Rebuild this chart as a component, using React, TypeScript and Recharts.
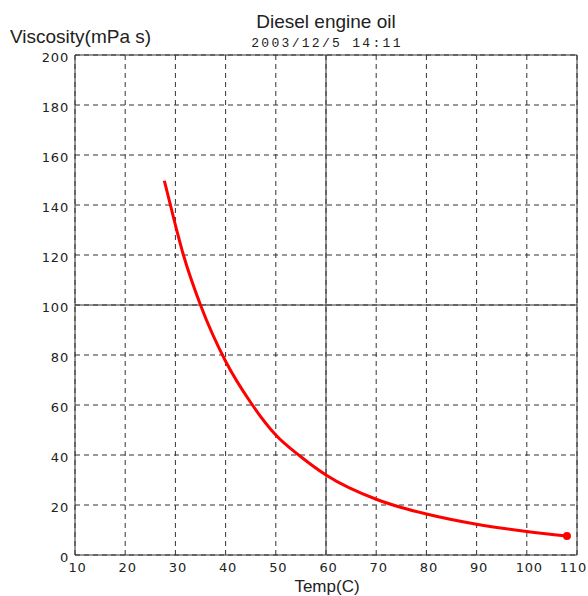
import React from 'react'
import { LineChart, Line, XAxis, YAxis, CartesianGrid, ReferenceLine } from 'recharts'

const temps = [27.8, 30, 31.6, 35, 40, 45, 50, 55, 60, 70, 75, 80, 90, 100, 108]
const viscosity = [149.7, 132, 120, 100, 77.5, 61, 48, 39.3, 32, 22.3, 19, 16.4, 12.3, 9.4, 7.6]
const xTicks = [10, 20, 30, 40, 50, 60, 70, 80, 90, 100, 110]
const yTicks = [0, 20, 40, 60, 80, 100, 120, 140, 160, 180, 200]

const data = temps.map((t, i) => ({ temp: t, visc: viscosity[i] }))

const tickFont = { fontFamily: '"DejaVu Sans", sans-serif', fontSize: 13, letterSpacing: 0.8, fill: '#222' }
const labelFont = '"Liberation Sans", Arial, sans-serif'

const YTick = ({ x, y, payload }: any) => (
  <text x={x} y={y + 2} textAnchor="end" dominantBaseline="central" style={tickFont}>
    {payload.value}
  </text>
)

// last label sits right at the page edge, keep it inside
const XTick = ({ x, payload }: any) => (
  <text x={payload.value === 110 ? 587 : x + 2.5} y={572} textAnchor={payload.value === 110 ? 'end' : 'middle'} style={tickFont}>
    {payload.value}
  </text>
)

const EndDot = (props: any) => {
  if (props.index !== data.length - 1) return null
  return <circle key="end" cx={props.cx} cy={props.cy} r={4} fill="#ff0000" />
}

export default function App() {
  return (
    <div style={{ position: 'absolute', left: 0, top: 0, width: 588, height: 596, overflow: 'hidden', background: '#fff' }}>
      <LineChart width={588} height={596} data={data} margin={{ top: 55, right: 11, bottom: 0, left: 0 }}>
        <CartesianGrid stroke="#333" strokeDasharray="5 4" />
        <XAxis
          dataKey="temp" type="number" domain={[10, 110]} ticks={xTicks}
          height={41} tickLine={false} tickSize={0} tick={<XTick />}
          axisLine={{ stroke: '#333' }} allowDataOverflow
        />
        <YAxis
          type="number" domain={[0, 200]} ticks={yTicks}
          width={75} tickLine={false} tickSize={0} tickMargin={6} tick={<YTick />}
          axisLine={{ stroke: '#333' }}
        />
        <ReferenceLine x={60} stroke="#333" />
        <ReferenceLine y={100} stroke="#333" />
        <ReferenceLine x={110} stroke="#333" />
        <ReferenceLine y={200} stroke="#333" />
        <Line
          dataKey="visc" type="monotone" stroke="#ff0000" strokeWidth={3}
          dot={<EndDot />} activeDot={false} isAnimationActive={false}
        />
      </LineChart>
      <svg width={588} height={596} style={{ position: 'absolute', left: 0, top: 0, pointerEvents: 'none' }}>
        <text x={326} y={28} textAnchor="middle" style={{ fontFamily: labelFont, fontSize: 19, fill: '#222' }}>
          Diesel engine oil
        </text>
        <text x={327} y={46.5} textAnchor="middle" style={{ fontFamily: '"Liberation Mono", monospace', fontSize: 13, letterSpacing: 2.3, fill: '#222' }}>
          2003/12/5 14:11
        </text>
        <text x={10} y={42.5} style={{ fontFamily: labelFont, fontSize: 19, fill: '#222' }}>
          Viscosity(mPa s)
        </text>
        <text x={327} y={592} textAnchor="middle" style={{ fontFamily: labelFont, fontSize: 17, fill: '#222' }}>
          Temp(C)
        </text>
      </svg>
    </div>
  )
}
